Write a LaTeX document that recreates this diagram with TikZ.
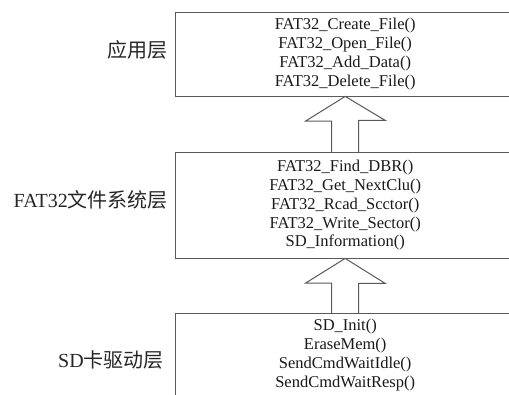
\documentclass[tikz,border=0pt]{standalone}
\usepackage{fontspec}
\setmainfont{Liberation Serif}
\newfontfamily\cjk{Noto Sans CJK SC}
\usetikzlibrary{calc}
\tikzset{
  layertext/.style={rectangle, anchor=north west, inner sep=0pt,
    align=center, font=\fontsize{16.5}{18.9}\selectfont, text=black!90},
  frame/.style={draw=black!65, line width=1pt},
  layerlabel/.style={anchor=east, inner sep=0pt, font=\fontsize{20}{23}\selectfont, text=black!85},
  fatarrow/.style={draw=black!65, line width=1pt, line join=miter}
}
\begin{document}
\begin{tikzpicture}[x=1pt,y=-1pt]
\useasboundingbox (0,0) rectangle (509,394);
\node[layertext, minimum width=340pt, minimum height=84pt] (b1) at (175,12)
  {FAT32\_Create\_File()\\FAT32\_Open\_File()\\FAT32\_Add\_Data()\\FAT32\_Delete\_File()};
\node[layertext, minimum width=340pt, minimum height=106pt] (b2) at (175,152)
  {FAT32\_Find\_DBR()\\FAT32\_Get\_NextClu()\\FAT32\_Rcad\_Scctor()\\FAT32\_Write\_Sector()\\SD\_Information()};
\node[layertext, minimum width=340pt, minimum height=84pt] (b3) at (175,313)
  {SD\_Init()\\EraseMem()\\SendCmdWaitIdle()\\SendCmdWaitResp()};
\draw[frame] ($(b1.north east)+(0,0)$) -- (b1.north west) -- (b1.south west) -- (b1.south east);
\draw[frame] ($(b2.north east)+(0,0)$) -- (b2.north west) -- (b2.south west) -- (b2.south east);
\draw[frame] ($(b3.north east)+(0,0)$) -- (b3.north west) -- (b3.south west);
\node[layerlabel] (l1) at (168,50) {{\cjk 应用层}};
\node[layerlabel] (l2) at (168,200) {FAT32{\cjk 文件系统层}};
\node[layerlabel] (l3) at (164,360) {SD{\cjk 卡驱动层}};
% arrows
\draw[fatarrow] ($(b2.north)+(-13.5,0)$) -- ++(0,-31) -- ++(-26,0) -- (b1.south)
  -- ($(b1.south)+(40,24)$) -- ++(-26.5,0) -- ($(b2.north)+(13.5,0)$);
\draw[fatarrow] ($(b3.north)+(-13.5,0)$) -- ++(0,-30) -- ++(-26,0) -- (b2.south)
  -- ($(b2.south)+(40,25)$) -- ++(-26.5,0) -- ($(b3.north)+(13.5,0)$);
\end{tikzpicture}
\end{document}
